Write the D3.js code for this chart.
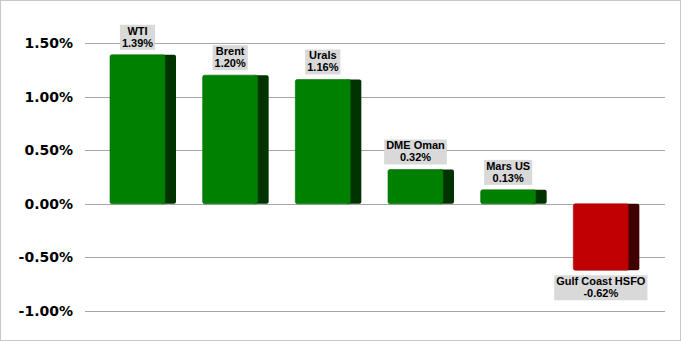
<!DOCTYPE html>
<html lang="en">
<head>
<meta charset="utf-8">
<title>Crude Price Change</title>
<script src="https://d3js.org/d3.v7.min.js"></script>
<style>
  * { margin: 0; padding: 0; box-sizing: border-box; }
  html, body { width: 681px; height: 341px; background: #fff; overflow: hidden; }
  svg { display: block; }
</style>
</head>
<body>
<svg id="chart" width="681" height="341"></svg>
<script>
  const grades = ["WTI", "Brent", "Urals", "DME Oman", "Mars US", "Gulf Coast HSFO"];
  const changes = [1.39, 1.20, 1.16, 0.32, 0.13, -0.62];
  const yTicks = [1.5, 1.0, 0.5, 0.0, -0.5, -1.0];

  const svg = d3.select("#chart");
  const W = 681, H = 341;

  // plain hyphen for negatives, like the source
  const pct = v => d3.format(".2f")(v).replace("\u2212", "-") + "%";

  // outer frame
  svg.append("rect")
    .attr("x", 0.5).attr("y", 0.5)
    .attr("width", W - 1).attr("height", H - 1)
    .attr("fill", "#fff").attr("stroke", "#c8c8c8");

  const y = d3.scaleLinear().domain([-1.0, 1.5]).range([311, 43]);
  const x = d3.scaleBand().domain(grades).range([88, 644]).padding(0);

  const gridX0 = 85, gridX1 = 665;

  // gridlines
  svg.append("g").selectAll("line")
    .data(yTicks)
    .join("line")
    .attr("x1", gridX0).attr("x2", gridX1)
    .attr("y1", d => Math.round(y(d)) + 0.5)
    .attr("y2", d => Math.round(y(d)) + 0.5)
    .attr("stroke", "#a6a6a6").attr("stroke-width", 1);

  // y axis labels
  svg.append("g").selectAll("text")
    .data(yTicks)
    .join("text")
    .attr("x", 73)
    .attr("y", d => y(d) + 5)
    .attr("text-anchor", "end")
    .attr("font-family", "DejaVu Sans, Verdana, sans-serif")
    .attr("font-weight", "bold")
    .attr("font-size", 14)
    .attr("fill", "#000")
    .text(pct);

  const frontW = 55, sideW = 11, off = 22;
  const colors = d => d >= 0
    ? { front: "#008000", side: "#003300" }
    : { front: "#c00000", side: "#400000" };

  const bars = svg.append("g").selectAll("g")
    .data(grades.map((g, i) => ({ name: g, v: changes[i] })))
    .join("g");

  // side face (dark)
  bars.append("rect")
    .attr("x", d => x(d.name) + off + frontW - 4)
    .attr("y", d => Math.min(y(d.v), y(0)))
    .attr("width", sideW + 4)
    .attr("height", d => Math.abs(y(d.v) - y(0)))
    .attr("rx", 2)
    .attr("fill", d => colors(d.v).side);

  // front face
  bars.append("rect")
    .attr("x", d => x(d.name) + off)
    .attr("y", d => Math.min(y(d.v), y(0)))
    .attr("width", frontW)
    .attr("height", d => Math.abs(y(d.v) - y(0)))
    .attr("rx", 2)
    .attr("fill", d => colors(d.v).front)
    .attr("stroke", d => d3.color(colors(d.v).front).darker(0.5))
    .attr("stroke-width", 0.6);

  // data labels
  const labelFont = "Liberation Sans, Arial, sans-serif";
  bars.each(function(d) {
    const g = d3.select(this);
    const cx = x(d.name) + off + frontW / 2;
    const lbl = g.append("g");
    const t1 = lbl.append("text")
      .attr("x", cx).attr("text-anchor", "middle")
      .attr("font-family", labelFont).attr("font-size", 11)
      .attr("font-weight", "bold")
      .attr("fill", "#000")
      .text(d.name);
    const t2 = lbl.append("text")
      .attr("x", cx).attr("text-anchor", "middle")
      .attr("font-family", labelFont).attr("font-size", 11)
      .attr("font-weight", "bold")
      .attr("fill", "#000")
      .text(pct(d.v));
    const wMax = Math.max(t1.node().getComputedTextLength(), t2.node().getComputedTextLength());
    const boxH = 25;
    const top = d.v >= 0 ? y(d.v) - 5 - boxH : y(d.v) + 5;
    lbl.insert("rect", "text")
      .attr("x", cx - wMax / 2 - 2)
      .attr("y", top)
      .attr("width", wMax + 4)
      .attr("height", boxH)
      .attr("fill", "#d9d9d9");
    t1.attr("y", top + 10);
    t2.attr("y", top + 22);
  });
</script>
</body>
</html>
